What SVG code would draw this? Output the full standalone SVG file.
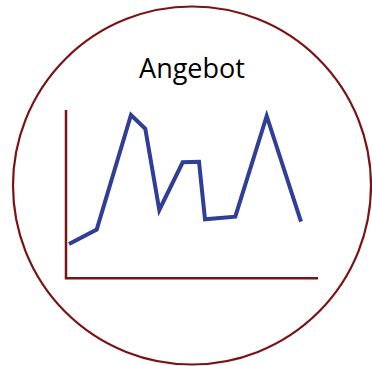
<svg xmlns="http://www.w3.org/2000/svg" width="372" height="366" viewBox="0 0 372 366">
<style>
.ring{fill:#fff;stroke:#7a1414;stroke-width:2.2}
.axis{fill:none;stroke:#7a1414;stroke-width:2.5}
.series{fill:none;stroke:#2f3e96;stroke-width:4;stroke-linejoin:miter}
.label{font-family:"Open Sans","Noto Sans",sans-serif;font-size:27px;fill:#000;text-anchor:middle}
</style>
<rect width="372" height="366" fill="#fff"/>
<g id="circle">
<circle class="ring" cx="192" cy="185.5" r="179"/>
<text class="label" x="192" y="78">Angebot</text>
</g>
<g id="chart">
<polyline class="axis" points="66,110 66,278.3 318,278.3"/>
<polyline class="series" points="69,244 96.7,229.5 131,115 145.3,128.7 159.3,210 182.7,162.3 199,161.7 205,219.3 235.3,216.7 266.7,116 301,221.7"/>
</g>
</svg>
